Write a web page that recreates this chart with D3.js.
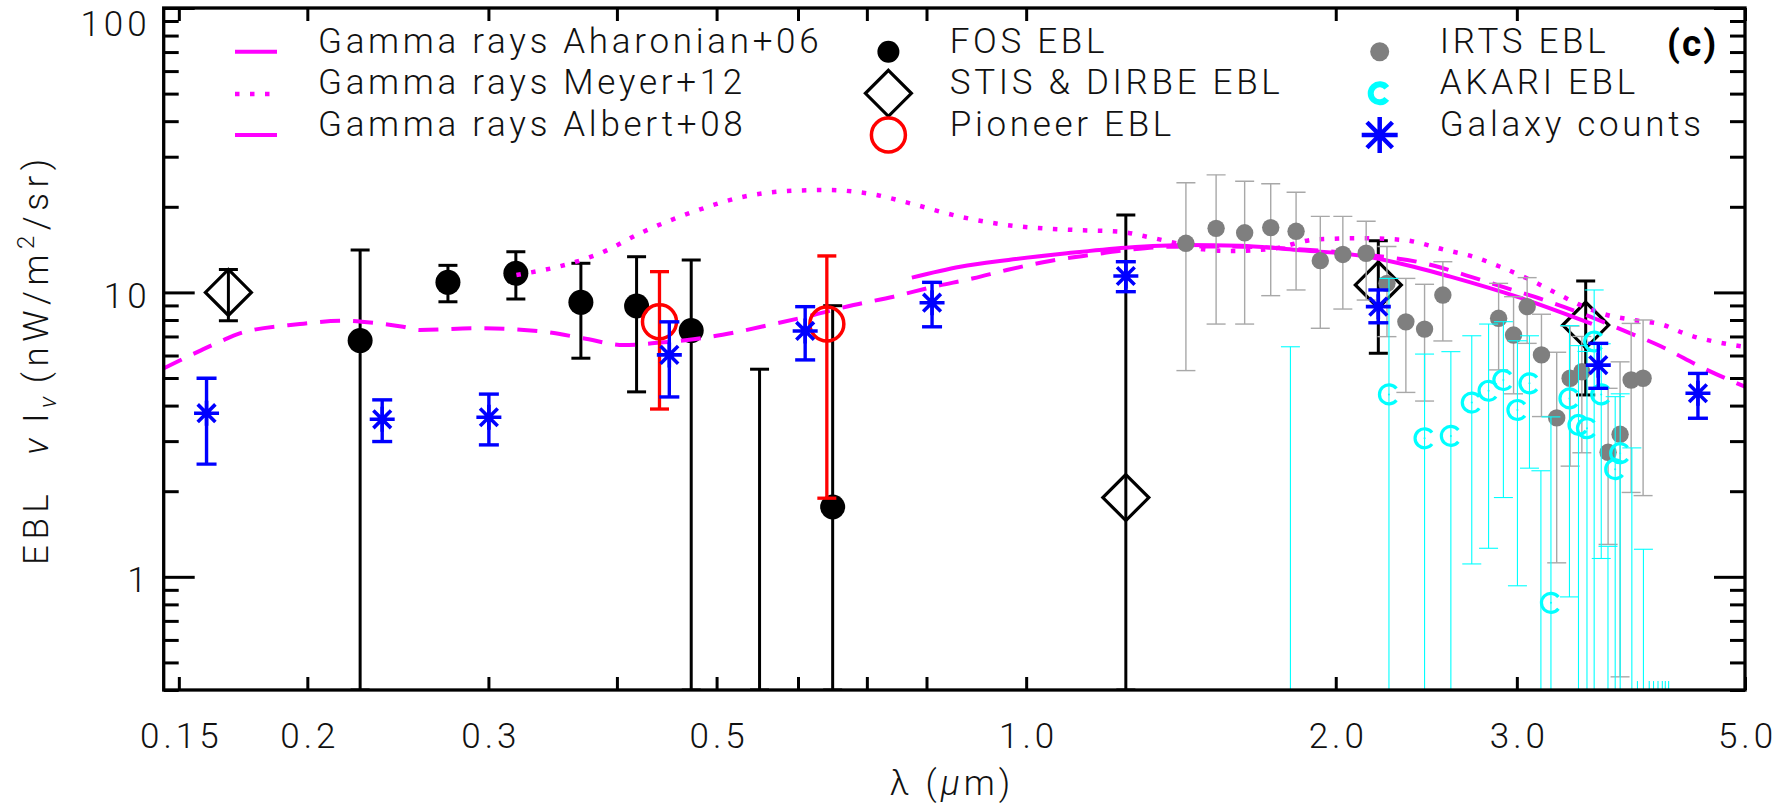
<!DOCTYPE html>
<html>
<head>
<meta charset="utf-8">
<script src="https://cdn.jsdelivr.net/npm/d3@7"></script>
<style>
  html, body { margin: 0; padding: 0; background: #fff; }
  svg { display: block; }
  text { font-family: Roboto, "DejaVu Sans", sans-serif; font-weight: 300; fill: #111; }
</style>
</head>
<body>
<svg id="chart" width="1788" height="808"></svg>
<script>
// ---- Data: wavelength (micron), nu I_nu (nW/m^2/sr), lower, upper (0 = below plotted range) ----
const fosEBL = [
  [0.2251, 6.77, 0, 14.1],
  [0.274, 10.85, 9.27, 12.45],
  [0.319, 11.67, 9.48, 13.9],
  [0.369, 9.23, 5.87, 12.66],
  [0.418, 8.96, 4.47, 13.35],
  [0.4724, 7.34, 0, 13.0],
  [0.5505, null, 0, 5.37],
  [0.6484, 1.76, 0, 8.98]
];
const stisDirbeEBL = [
  [0.1676, 10.0, 7.95, 12.05],
  [1.25, 1.90, 0, 18.7],
  [2.2, 10.62, 6.11, 15.2],
  [3.5, 7.68, 4.36, 10.97]
];
const pioneerEBL = [
  [0.44, 7.88, 3.89, 11.83],
  [0.64, 7.74, 1.89, 13.43]
];
const irtsEBL = [
  [1.43, 14.88, 5.31, 24.3],
  [1.53, 16.8, 7.74, 25.9],
  [1.631, 16.2, 7.74, 24.6],
  [1.729, 16.9, 9.74, 24.1],
  [1.83, 16.4, 10.2, 22.5],
  [1.932, 12.93, 7.48, 18.5],
  [2.032, 13.6, 8.74, 18.5],
  [2.141, 13.73, 9.4, 17.8],
  [2.243, 10.76, 6.99, 14.5],
  [2.34, 7.88, 4.45, 11.2],
  [2.44, 7.43, 4.15, 10.68],
  [2.542, 9.79, 6.75, 12.82],
  [2.88, 8.11, 5.34, 10.76],
  [2.978, 7.08, 4.4, 9.66],
  [3.07, 8.91, 6.62, 11.27],
  [3.17, 6.03, 3.66, 8.38],
  [3.28, 3.62, 1.12, 6.16],
  [3.38, 4.99, 2.45, 7.62],
  [3.47, 5.26, 2.73, 7.0],
  [3.68, 2.74, 1.3, 4.6],
  [3.78, 3.17, 0.445, 5.7],
  [3.875, 4.92, 1.98, 7.78],
  [3.98, 4.99, 1.93, 8.0]
];
const akariEBL = [
  [1.807, null, 0, 6.44],
  [2.253, 4.38, 0, 11.2],
  [2.44, 3.07, 0, 6.07],
  [2.588, 3.13, 0, 6.19],
  [2.712, 4.10, 1.11, 7.04],
  [2.816, 4.51, 1.26, 7.74],
  [2.911, 4.92, 1.90, 7.89],
  [3.004, 3.86, 0.93, 6.76],
  [3.086, 4.79, 2.41, 7.04],
  [3.166, null, 0, 2.36],
  [3.238, 0.81, 0, 3.65],
  [3.375, 4.24, 0.85, 7.64],
  [3.444, 3.42, 0, 6.5],
  [3.51, 3.33, 0, 6.2],
  [3.567, 6.72, 0, 10.2],
  [3.624, 4.38, 1.16, 6.6],
  [3.679, null, 0, 1.28],
  [3.739, 2.39, 0, 4.3],
  [3.781, 2.72, 0, 4.4],
  [3.881, null, 0, 2.84],
  [3.983, null, 0, 1.25]
];
// AKARI bands whose upper limits barely clear the floor of the plot
const akariFloorLambda = [3.93, 4.035, 4.074, 4.115, 4.155, 4.183, 4.214];
const akariFloorUpper  = [0.43, 0.43, 0.43, 0.43, 0.43, 0.43, 0.43];
const galaxyCounts = [
  [0.1596, 3.76, 2.49, 4.99],
  [0.2365, 3.58, 2.99, 4.19],
  [0.3003, 3.64, 2.91, 4.39],
  [0.4498, 6.03, 4.29, 7.88],
  [0.6097, 7.32, 5.79, 8.91],
  [0.810, 9.20, 7.57, 10.85],
  [1.25, 11.42, 10.06, 12.82],
  [2.2, 8.91, 7.82, 10.2],
  [3.6, 5.55, 4.60, 6.62],
  [4.5, 4.42, 3.61, 5.19]
];
// Gamma-ray EBL models: [wavelength, nu I_nu]
const aharonian06 = [
  [0.7742, 11.27], [0.8627, 12.31], [0.9611, 13.0], [1.0954, 13.73], [1.25, 14.36],
  [1.433, 14.68], [1.615, 14.6], [1.833, 14.1], [2.128, 13.43], [2.381, 12.31],
  [2.585, 11.36], [3.0, 9.66], [3.549, 7.75]
];
const meyer12 = [
  [0.3194, 11.51], [0.3652, 12.82], [0.3853, 13.73], [0.4245, 16.35], [0.4748, 19.22],
  [0.5311, 21.7], [0.594, 22.79], [0.64, 22.91], [0.7158, 22.0], [0.7711, 20.57],
  [0.8627, 18.46], [0.9576, 17.26], [1.016, 16.89], [1.12, 16.57], [1.234, 16.35],
  [1.31, 15.7], [1.401, 14.88], [1.487, 14.17], [1.579, 13.98], [1.727, 14.21],
  [1.918, 15.37], [2.127, 15.5], [2.325, 15.29], [2.556, 14.1], [2.722, 13.35],
  [2.89, 12.31], [3.068, 11.21], [3.257, 10.06], [3.457, 9.03], [3.671, 8.33],
  [3.895, 8.0], [4.167, 7.68], [4.364, 7.18], [4.994, 6.44]
];
const albert08 = [
  [0.145, 5.41], [0.1578, 6.27], [0.1644, 6.71], [0.1719, 7.18], [0.1967, 7.74],
  [0.2168, 7.95], [0.2258, 7.89], [0.2478, 7.57], [0.2573, 7.38], [0.292, 7.48],
  [0.3391, 7.28], [0.3709, 6.90], [0.4059, 6.53], [0.4405, 6.66], [0.4748, 6.84],
  [0.5192, 7.22], [0.5679, 7.74], [0.6212, 8.33], [0.6794, 9.03], [0.743, 9.66],
  [0.8126, 10.47], [0.8887, 11.21], [0.9576, 11.99], [1.055, 12.9], [1.154, 13.54],
  [1.271, 14.17], [1.39, 14.48], [1.579, 14.5], [1.83, 14.21], [2.193, 13.43],
  [2.399, 12.82], [2.499, 12.38], [2.673, 11.51], [2.923, 10.4], [3.19, 9.40],
  [3.48, 8.40], [3.798, 7.38], [4.136, 6.48], [4.558, 5.41], [5.0, 4.66]
];
// Axis ticks
const xTicks = [0.15, 0.2, 0.3, 0.4, 0.5, 0.6, 0.7, 0.8, 1.0, 2.0, 3.0, 5.0];
const xLabeled = [0.15, 0.2, 0.3, 0.5, 1.0, 2.0, 3.0, 5.0];
const yMajor = [1, 10, 100];
const yMinor = [0.4, 0.5, 0.6, 0.7, 0.8, 0.9, 2, 3, 4, 5, 6, 7, 8, 9, 20, 30, 40, 50, 60, 70, 80, 90];

// ---- Layout ----
const svg = d3.select("#chart");
const L = 163.7, R = 1745, T = 8, B = 690;
const x = d3.scaleLog().domain([0.145, 5.0]).range([L, R]);
const y = d3.scaleLog().domain([0.4, 100]).range([B, T]);
const yFloor = y.domain()[0];
const Y = v => y(Math.max(v, yFloor));

svg.append("defs").append("clipPath").attr("id", "plotClip")
  .append("rect").attr("x", L).attr("y", T).attr("width", R - L).attr("height", B - T);
const plot = svg.append("g").attr("clip-path", "url(#plotClip)");

const MAGENTA = "#ff00ff", BLUE = "#0000ff", RED = "#ff0000", CYAN = "#00ffff";

function errorBars(data, color, width, capHalf) {
  const g = plot.append("g").attr("stroke", color).attr("stroke-width", width).attr("fill", "none");
  const e = g.selectAll("g").data(data).join("g");
  e.append("line")
    .attr("x1", d => x(d[0])).attr("x2", d => x(d[0]))
    .attr("y1", d => Y(d[2])).attr("y2", d => Y(d[3]));
  e.append("line")
    .attr("x1", d => x(d[0]) - capHalf).attr("x2", d => x(d[0]) + capHalf)
    .attr("y1", d => Y(d[2])).attr("y2", d => Y(d[2]));
  e.append("line")
    .attr("x1", d => x(d[0]) - capHalf).attr("x2", d => x(d[0]) + capHalf)
    .attr("y1", d => Y(d[3])).attr("y2", d => Y(d[3]));
}
const visible = arr => arr.filter(d => d[1] !== null && d[1] >= yFloor);

// marker shapes
const diamondPath = h => `M0,${-h}L${h},0L0,${h}L${-h},0Z`;
const asteriskPath = h => {
  const d = h * Math.SQRT1_2;
  return `M${-h},0L${h},0M0,${-h}L0,${h}M${-d},${-d}L${d},${d}M${-d},${d}L${d},${-d}`;
};
const cPath = r => {
  const a = 38 * Math.PI / 180, cx = r * Math.cos(a), cy = r * Math.sin(a);
  return `M${cx},${-cy}A${r},${r} 0 1 0 ${cx},${cy}`;
};

// FOS
errorBars(fosEBL, "#000", 3, 9.5);
plot.append("g").selectAll("circle").data(visible(fosEBL)).join("circle")
  .attr("cx", d => x(d[0])).attr("cy", d => y(d[1])).attr("r", 12.5).attr("fill", "#000");

// STIS & DIRBE
errorBars(stisDirbeEBL, "#000", 3, 9.5);
plot.append("g").selectAll("path").data(visible(stisDirbeEBL)).join("path")
  .attr("transform", d => `translate(${x(d[0])},${y(d[1])})`)
  .attr("d", diamondPath(23)).attr("fill", "none").attr("stroke", "#000").attr("stroke-width", 3.2);

// Gamma-ray model curves
const line = d3.line().x(d => x(d[0])).y(d => y(d[1])).curve(d3.curveMonotoneX);
plot.append("path").datum(albert08).attr("d", line).attr("fill", "none")
  .attr("stroke", MAGENTA).attr("stroke-width", 4).attr("stroke-dasharray", "20,13");
plot.append("path").datum(meyer12).attr("d", line).attr("fill", "none")
  .attr("stroke", MAGENTA).attr("stroke-width", 4.5).attr("stroke-dasharray", "4.5,10.5");
plot.append("path").datum(aharonian06).attr("d", line).attr("fill", "none")
  .attr("stroke", MAGENTA).attr("stroke-width", 4);

// IRTS
errorBars(irtsEBL, "#a8a8a8", 1.4, 9.5);
plot.append("g").selectAll("circle").data(visible(irtsEBL)).join("circle")
  .attr("cx", d => x(d[0])).attr("cy", d => y(d[1])).attr("r", 8.7).attr("fill", "#7f7f7f");

// AKARI
errorBars(akariEBL, CYAN, 1.1, 9.5);
plot.append("g").attr("stroke", CYAN).attr("stroke-width", 1.1)
  .selectAll("line").data(akariFloorLambda).join("line")
  .attr("x1", d => x(d)).attr("x2", d => x(d))
  .attr("y1", B).attr("y2", (d, i) => y(akariFloorUpper[i]));
const ak = plot.append("g").selectAll("g").data(visible(akariEBL)).join("g")
  .attr("transform", d => `translate(${x(d[0])},${y(d[1])})`);
ak.append("path").attr("d", cPath(9.5)).attr("fill", "none").attr("stroke", CYAN).attr("stroke-width", 3.2);
ak.append("circle").attr("r", 1).attr("fill", CYAN);

// Pioneer
errorBars(pioneerEBL, RED, 3.3, 9.5);
plot.append("g").selectAll("circle").data(visible(pioneerEBL)).join("circle")
  .attr("cx", d => x(d[0])).attr("cy", d => y(d[1])).attr("r", 17)
  .attr("fill", "none").attr("stroke", RED).attr("stroke-width", 3.5);

// Galaxy counts
errorBars(galaxyCounts, BLUE, 3.4, 10);
plot.append("g").selectAll("path").data(visible(galaxyCounts)).join("path")
  .attr("transform", d => `translate(${x(d[0])},${y(d[1])})`)
  .attr("d", asteriskPath(12.5)).attr("fill", "none").attr("stroke", BLUE).attr("stroke-width", 3.6);

// ---- Axes ----
const labelFmt = d => xLabeled.includes(d) ? (d >= 1 ? d.toFixed(1) : String(d)) : "";
function styleAxis(g) {
  g.select(".domain").remove();
  g.selectAll(".tick line").attr("stroke", "#000").attr("stroke-width", 3);
  g.selectAll(".tick text").style("fill", "#111").attr("font-size", 35)
    .style("letter-spacing", "4px");
}
svg.append("g").attr("transform", `translate(0,${B})`)
  .call(d3.axisBottom(x).tickValues(xTicks).tickFormat(labelFmt).tickSize(-13).tickPadding(33))
  .call(styleAxis)
  .call(g => g.selectAll(".tick text").attr("dy", "0.71em").attr("dx", 2));
svg.append("g").attr("transform", `translate(0,${T})`)
  .call(d3.axisTop(x).tickValues(xTicks).tickFormat("").tickSize(-13))
  .call(styleAxis);
svg.append("g").attr("transform", `translate(${L},0)`)
  .call(d3.axisLeft(y).tickValues(yMinor).tickFormat("").tickSize(-15))
  .call(styleAxis);
svg.append("g").attr("transform", `translate(${L},0)`)
  .call(d3.axisLeft(y).tickValues(yMajor).tickFormat(d3.format("d")).tickSize(-31).tickPadding(13))
  .call(styleAxis)
  .call(g => g.selectAll(".tick text").attr("dy", d => d === 100 ? 27 : 15));
svg.append("g").attr("transform", `translate(${R},0)`)
  .call(d3.axisRight(y).tickValues(yMinor).tickFormat("").tickSize(-15))
  .call(styleAxis);
svg.append("g").attr("transform", `translate(${R},0)`)
  .call(d3.axisRight(y).tickValues(yMajor).tickFormat("").tickSize(-31))
  .call(styleAxis);

// frame
svg.append("rect").attr("x", L).attr("y", T).attr("width", R - L).attr("height", B - T)
  .attr("fill", "none").attr("stroke", "#000").attr("stroke-width", 3.3);

// axis titles
const xt = svg.append("text").attr("x", 952).attr("y", 795).attr("text-anchor", "middle")
  .attr("font-size", 35).style("letter-spacing", "4px");
xt.append("tspan").text("λ  (");
xt.append("tspan").attr("font-style", "italic").text("μ");
xt.append("tspan").text("m)");

const yt = svg.append("text").attr("transform", "translate(48,565) rotate(-90)")
  .attr("text-anchor", "start").attr("font-size", 35).style("letter-spacing", "5.5px");
yt.append("tspan").text("EBL");
yt.append("tspan").attr("dx", 34).attr("font-style", "italic").text("ν");
yt.append("tspan").attr("dx", 10).text("I");
yt.append("tspan").attr("font-style", "italic").attr("font-size", 24).attr("dy", 8).text("ν");
yt.append("tspan").attr("dy", -8).attr("dx", 8).text("(nW/m");
yt.append("tspan").attr("font-size", 24).attr("dy", -14).text("2");
yt.append("tspan").attr("dy", 14).text("/sr)");

// panel tag
svg.append("text").attr("x", 1667).attr("y", 56).attr("font-size", 37)
  .style("font-weight", 700).style("letter-spacing", "2px").style("fill", "#000").text("(c)");

// ---- Legend ----
const rows = [53.3, 94.3, 136];
const leg = svg.append("g");
function legText(xp, row, s) {
  leg.append("text").attr("x", xp).attr("y", rows[row]).attr("font-size", 35)
    .style("letter-spacing", "3.7px").text(s);
}
// column 1: model curves
leg.append("line").attr("x1", 235).attr("x2", 277).attr("y1", 51.7).attr("y2", 51.7)
  .attr("stroke", MAGENTA).attr("stroke-width", 4);
leg.append("line").attr("x1", 235).attr("x2", 277).attr("y1", 94).attr("y2", 94)
  .attr("stroke", MAGENTA).attr("stroke-width", 4.5).attr("stroke-dasharray", "4.5,10.5");
leg.append("line").attr("x1", 235).attr("x2", 277).attr("y1", 135).attr("y2", 135)
  .attr("stroke", MAGENTA).attr("stroke-width", 4);
legText(318, 0, "Gamma rays Aharonian+06");
legText(318, 1, "Gamma rays Meyer+12");
legText(318, 2, "Gamma rays Albert+08");
// column 2
const c2 = 888.4;
leg.append("circle").attr("cx", c2).attr("cy", 51.7).attr("r", 11).attr("fill", "#000");
leg.append("path").attr("transform", `translate(${c2},93.3)`).attr("d", diamondPath(23))
  .attr("fill", "none").attr("stroke", "#000").attr("stroke-width", 3.2);
leg.append("circle").attr("cx", c2).attr("cy", 135).attr("r", 17)
  .attr("fill", "none").attr("stroke", RED).attr("stroke-width", 3.5);
legText(949.7, 0, "FOS EBL");
legText(949.7, 1, "STIS & DIRBE EBL");
legText(949.7, 2, "Pioneer EBL");
// column 3
const c3 = 1379.7;
leg.append("circle").attr("cx", c3).attr("cy", 51.7).attr("r", 9.5).attr("fill", "#7f7f7f");
leg.append("path").attr("transform", `translate(${c3},93.3)`).attr("d", cPath(9))
  .attr("fill", "none").attr("stroke", CYAN).attr("stroke-width", 6);
leg.append("path").attr("transform", `translate(${c3},135)`).attr("d", asteriskPath(18))
  .attr("fill", "none").attr("stroke", BLUE).attr("stroke-width", 4.5);
legText(1439.8, 0, "IRTS EBL");
legText(1439.8, 1, "AKARI EBL");
legText(1439.8, 2, "Galaxy counts");
</script>
</body>
</html>
